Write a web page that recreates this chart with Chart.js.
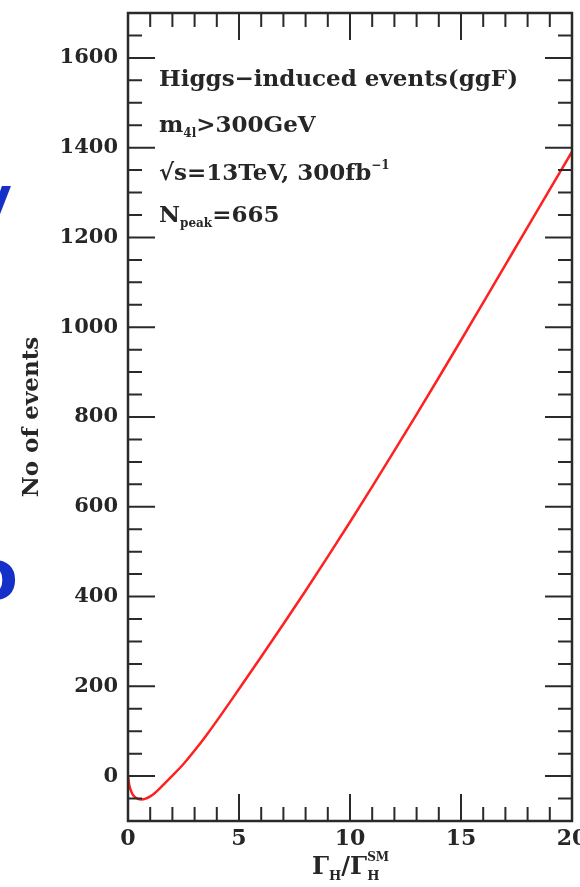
<!DOCTYPE html>
<html>
<head>
<meta charset="utf-8">
<script src="https://cdn.jsdelivr.net/npm/chart.js@4.4.1/dist/chart.umd.min.js"></script>
<style>
html, body { margin: 0; padding: 0; background: #fff; overflow: hidden; }
#wrap { position: relative; width: 580px; height: 887px; overflow: hidden; }
.edge { position: absolute; color: #1530c8; font-family: "DejaVu Sans"; font-weight: bold; line-height: 1; }
</style>
</head>
<body>
<div id="wrap">
  <canvas id="chart" width="580" height="887"></canvas>
  <span class="edge" style="left:-22px; top:170px; font-size:52px;">y</span>
  <span class="edge" style="left:-30px; top:540px; font-size:70px;">o</span>
</div>
<script>
// Curve: Gamma_H / Gamma_H^SM vs number of events
const widthRatio = [0, 0.05, 0.1, 0.2, 0.35, 0.6, 0.8, 1.0, 1.2, 1.4, 2, 2.5, 3, 3.5, 4, 5, 6, 7, 8, 9, 10, 11, 12, 13, 14, 15, 16, 17, 18, 19, 20];
const nEvents    = [0, -18, -28, -40, -48, -52, -50, -45, -38, -29, 1, 27, 57, 89, 123, 194, 266, 339, 413, 489, 566, 645, 725, 806, 888, 971, 1055, 1139, 1223, 1307, 1391];

// Axis labels
const xTicks = [0, 5, 10, 15, 20];
const yTicks = [0, 200, 400, 600, 800, 1000, 1200, 1400, 1600];

const SERIF = '"DejaVu Serif", serif';
const INK = '#262626';

function drawRuns(ctx, x, y, runs) {
    runs.forEach(r => {
        ctx.font = r.font;
        ctx.fillText(r.t, x, y + (r.dy || 0));
        if (!r.stack) x += ctx.measureText(r.t).width;
    });
    return x;
}

const framePlugin = {
    id: 'frame',
    afterDatasetsDraw(chart) {
        const { ctx, chartArea: a, scales: { x, y } } = chart;
        ctx.save();
        ctx.strokeStyle = '#2a2a2a';
        ctx.lineWidth = 2;
        ctx.beginPath();
        // minor ticks every 1 unit / 50 events, pointing inwards on all sides
        for (let v = 0; v <= 20; v++) {
            const px = x.getPixelForValue(v);
            const len = v % 5 === 0 ? 27 : 14;
            ctx.moveTo(px, a.bottom); ctx.lineTo(px, a.bottom - len);
            ctx.moveTo(px, a.top); ctx.lineTo(px, a.top + len);
        }
        for (let v = -100; v <= 1700; v += 50) {
            const py = y.getPixelForValue(v);
            const len = v % 200 === 0 ? 27 : 14;
            ctx.moveTo(a.left, py); ctx.lineTo(a.left + len, py);
            ctx.moveTo(a.right, py); ctx.lineTo(a.right - len, py);
        }
        ctx.stroke();
        ctx.lineWidth = 2.5;
        ctx.strokeRect(a.left, a.top, a.width, a.height);

        // annotations
        ctx.fillStyle = INK;
        ctx.textBaseline = 'alphabetic';
        ctx.textAlign = 'left';
        const big = 'bold 23px ' + SERIF;
        const small = 'bold 12px ' + SERIF;
        const tx = a.left + 31;
        drawRuns(ctx, tx, 86, [{ t: 'Higgs\u2212induced events(ggF)', font: big }]);
        drawRuns(ctx, tx, 132, [{ t: 'm', font: big }, { t: '4l', font: small, dy: 5 }, { t: '>300GeV', font: big }]);
        drawRuns(ctx, tx, 180, [{ t: '\u221As=13TeV, 300fb', font: big }, { t: '\u22121', font: small, dy: -11 }]);
        drawRuns(ctx, tx, 222, [{ t: 'N', font: big }, { t: 'peak', font: small, dy: 5 }, { t: '=665', font: big }]);

        // x axis title: Gamma_H / Gamma_H^SM
        const gx = x.getPixelForValue(10) - 38;
        const f1 = 'bold 24px ' + SERIF;
        const f2 = 'bold 13px ' + SERIF;
        drawRuns(ctx, gx, 874, [
            { t: '\u0393', font: f1 },
            { t: 'H', font: f2, dy: 6 },
            { t: '/\u0393', font: f1 },
            { t: 'H', font: f2, dy: 6, stack: true },
            { t: 'SM', font: 'bold 12px ' + SERIF, dy: -13 }
        ]);
        ctx.restore();
    }
};

const ctx = document.getElementById('chart');
new Chart(ctx, {
    type: 'line',
    data: {
        datasets: [{
            data: widthRatio.map((r, i) => ({ x: r, y: nEvents[i] })),
            borderColor: '#ff2020',
            borderWidth: 2.5,
            pointRadius: 0,
            fill: false,
            cubicInterpolationMode: 'monotone'
        }]
    },
    options: {
        responsive: false,
        animation: false,
        devicePixelRatio: 1,
        layout: { padding: { top: 13, right: 8, left: 0, bottom: 0 } },
        plugins: { legend: { display: false }, tooltip: { enabled: false } },
        scales: {
            x: {
                type: 'linear', min: 0, max: 20,
                grid: { display: false, drawTicks: false },
                border: { display: false },
                ticks: {
                    stepSize: 5, maxRotation: 0, autoSkip: false, padding: 5, color: INK,
                    font: { family: SERIF, size: 22, weight: 'bold' },
                    callback: v => xTicks.includes(v) ? String(v) : ''
                },
                afterFit: s => { s.height = 66; s.paddingLeft = 0; s.paddingRight = 0; }
            },
            y: {
                min: -100, max: 1700,
                grid: { display: false, drawTicks: false },
                border: { display: false },
                ticks: {
                    stepSize: 100, autoSkip: false, padding: 10, color: INK,
                    font: { family: SERIF, size: 21, weight: 'bold' },
                    callback: v => yTicks.includes(v) ? String(v) : ''
                },
                title: {
                    display: true, text: 'No of events', color: INK,
                    font: { family: SERIF, size: 23, weight: 'bold' },
                    padding: { top: 18, bottom: 0 }
                },
                afterFit: s => { s.width = 128; s.paddingTop = 0; s.paddingBottom = 0; }
            }
        }
    },
    plugins: [framePlugin]
});
</script>
</body>
</html>
